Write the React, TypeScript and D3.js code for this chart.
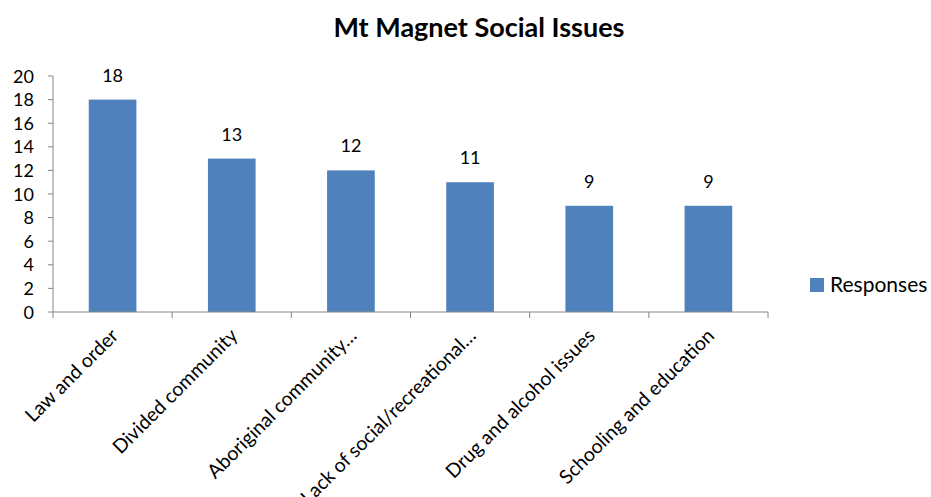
import React, { useEffect, useRef } from 'react';
import * as d3 from 'd3';

const categories = [
  'Law and order',
  'Divided community',
  'Aboriginal community…',
  'Lack of social/recreational…',
  'Drug and alcohol issues',
  'Schooling and education',
];
const responses = [18, 13, 12, 11, 9, 9];
const yTicks = [0, 2, 4, 6, 8, 10, 12, 14, 16, 18, 20];
const seriesName = 'Responses';
const chartTitle = 'Mt Magnet Social Issues';

const App = () => {
  const chartRef = useRef<SVGSVGElement>(null);

  useEffect(() => {
    const width = 931;
    const height = 497;
    const left = 53;
    const right = 768;
    const top = 76;
    const bottom = 312;
    const font = 'Lato, "Open Sans", sans-serif';

    const svg = d3.select(chartRef.current);
    svg.selectAll('*').remove();
    svg.attr('width', width).attr('height', height);

    const x = d3.scaleBand()
      .domain(categories)
      .range([left, right])
      .paddingInner(0.6)
      .paddingOuter(0.3);

    const y = d3.scaleLinear()
      .domain([0, 20])
      .range([bottom, top]);

    svg.append('text')
      .attr('x', 479)
      .attr('y', 37)
      .attr('text-anchor', 'middle')
      .attr('font-family', font)
      .attr('font-weight', 'bold')
      .attr('font-size', 27)
      .attr('fill', '#000')
      .text(chartTitle);

    // bars
    svg.selectAll('rect.bar')
      .data(responses)
      .enter().append('rect')
      .attr('class', 'bar')
      .attr('x', (d, i) => x(categories[i]))
      .attr('y', d => y(d))
      .attr('width', x.bandwidth())
      .attr('height', d => bottom - y(d))
      .attr('fill', '#4F81BD');

    svg.selectAll('text.value')
      .data(responses)
      .enter().append('text')
      .attr('class', 'value')
      .attr('x', (d, i) => x(categories[i]) + x.bandwidth() / 2)
      .attr('y', d => y(d) - 18)
      .attr('text-anchor', 'middle')
      .attr('font-family', font)
      .attr('font-size', 18)
      .attr('fill', '#000')
      .text(d => d);

    // y axis
    const axisColor = '#868686';
    svg.append('line')
      .attr('x1', left).attr('x2', left)
      .attr('y1', top).attr('y2', bottom)
      .attr('stroke', axisColor);

    svg.selectAll('line.ytick')
      .data(yTicks)
      .enter().append('line')
      .attr('class', 'ytick')
      .attr('x1', left - 5).attr('x2', left)
      .attr('y1', d => y(d)).attr('y2', d => y(d))
      .attr('stroke', axisColor);

    svg.selectAll('text.ylabel')
      .data(yTicks)
      .enter().append('text')
      .attr('class', 'ylabel')
      .attr('x', left - 19)
      .attr('y', d => y(d) + 6.5)
      .attr('text-anchor', 'end')
      .attr('font-family', font)
      .attr('font-size', 18)
      .attr('fill', '#000')
      .text(d => d);

    // x axis
    svg.append('line')
      .attr('x1', left).attr('x2', right)
      .attr('y1', bottom).attr('y2', bottom)
      .attr('stroke', axisColor);

    const step = x.step();
    const boundaries = d3.range(categories.length + 1).map(i => left + i * step);
    svg.selectAll('line.xtick')
      .data(boundaries)
      .enter().append('line')
      .attr('class', 'xtick')
      .attr('x1', d => d).attr('x2', d => d)
      .attr('y1', bottom).attr('y2', bottom + 6)
      .attr('stroke', axisColor);

    svg.selectAll('text.xlabel')
      .data(categories)
      .enter().append('text')
      .attr('class', 'xlabel')
      .attr('transform', d => `translate(${x(d) + x.bandwidth() / 2 + 7},${bottom + 25}) rotate(-45)`)
      .attr('text-anchor', 'end')
      .attr('font-family', font)
      .attr('font-size', 19.5)
      .attr('fill', '#000')
      .text(d => d);

    // legend
    svg.append('rect')
      .attr('x', 810).attr('y', 278)
      .attr('width', 14).attr('height', 14)
      .attr('fill', '#4F81BD');
    svg.append('text')
      .attr('x', 830)
      .attr('y', 292)
      .attr('font-family', font)
      .attr('font-size', 21)
      .attr('fill', '#000')
      .text(seriesName);
  }, []);

  return (
    <svg ref={chartRef} style={{ position: 'absolute', left: 0, top: 0, background: '#fff' }}></svg>
  );
};

export default App;
